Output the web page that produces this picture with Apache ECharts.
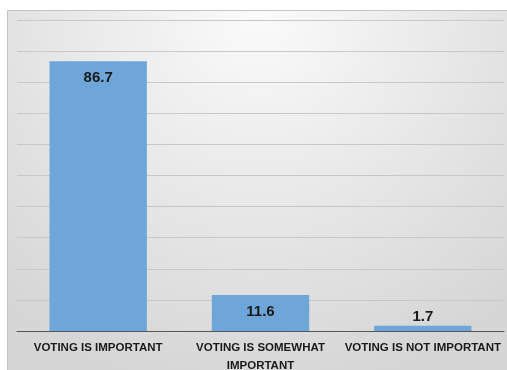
<!DOCTYPE html>
<html><head><meta charset="utf-8">
<script src="https://cdn.jsdelivr.net/npm/echarts@6/dist/echarts.min.js"></script>
<style>html,body{margin:0;padding:0;background:#fff}#c{width:507px;height:370px}</style>
</head><body><div id="c"></div>
<script>
const categories = ["VOTING IS IMPORTANT", "VOTING IS SOMEWHAT\nIMPORTANT", "VOTING IS NOT IMPORTANT"];
const values = [86.7, 11.6, 1.7];
const yTicks = [0, 10, 20, 30, 40, 50, 60, 70, 80, 90, 100];

const chart = echarts.init(document.getElementById('c'), null, {renderer: 'canvas'});
chart.setOption({
  animation: false,
  graphic: [{
    type: 'rect', left: 7, top: 10, z: -10,
    shape: {width: 500, height: 360},
    style: {
      fill: {type: 'radial', x: 0.5, y: 0, r: 1.05, colorStops: [
        {offset: 0, color: '#fbfbfb'}, {offset: 1, color: '#d6d6d6'}]},
      stroke: '#c4c4c4', lineWidth: 1
    }
  }],
  grid: {left: 17, right: 3, top: 20, bottom: 39, containLabel: false, outerBoundsMode: 'none'},
  xAxis: {
    type: 'category', data: categories,
    axisLine: {lineStyle: {color: '#555', width: 1.2}},
    axisTick: {show: false},
    axisLabel: {fontFamily: 'Liberation Sans', fontWeight: 'bold', fontSize: 11.5, color: '#1a1a1a', lineHeight: 18, margin: 8, interval: 0}
  },
  yAxis: {
    type: 'value', min: yTicks[0], max: yTicks[yTicks.length - 1], interval: 10,
    axisLabel: {show: false}, axisLine: {show: false}, axisTick: {show: false},
    splitLine: {lineStyle: {color: '#c8c8c8', width: 1}}
  },
  series: [{
    type: 'bar', barWidth: '60%',
    data: values.map(v => v < 5 ? {value: v, label: {position: 'top', distance: 1}} : v),
    itemStyle: {color: '#6fa6d9'},
    label: {show: true, position: 'insideTop', distance: 9, fontFamily: 'Liberation Sans', fontWeight: 'bold', fontSize: 15, color: '#1a1a1a',
      formatter: p => p.value.toFixed(1)}
  }]
});
</script></body></html>
